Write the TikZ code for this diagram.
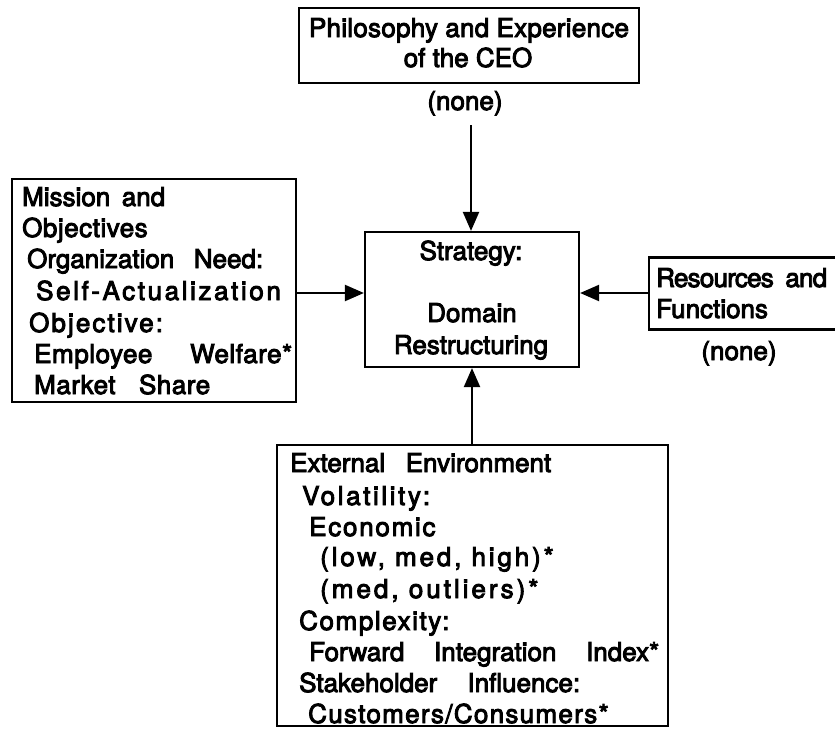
\documentclass[tikz,border=0pt]{standalone}
\usepackage{fontspec}
\setmainfont{TeX Gyre Heros}[FakeBold=3.5]
\usetikzlibrary{arrows.meta}
% stretch the word spaces of a line to a given width
\newcommand{\fitto}[2]{\makebox[#1][s]{#2}}
% letter-spaced text
\newcommand{\spaced}[2]{{\addfontfeature{LetterSpace=#1}#2}}
\begin{document}
\begin{tikzpicture}[x=1pt,y=-1pt,
  box/.style={draw, line width=2.2pt, rectangle, inner sep=0pt},
  txt/.style={inner sep=0pt, font=\fontsize{26}{31}\selectfont},
  arr/.style={line width=2.2pt, -{Triangle[length=19pt,width=16pt]}}]
\path[fill=white, use as bounding box] (0,0) rectangle (835,728);

% boxes
\node[box, minimum width=340pt, minimum height=75pt]  (ceo)       at (469,45.5)  {};
\node[box, minimum width=214pt, minimum height=135pt] (strategy)  at (472,299.5) {};
\node[box, minimum width=284pt, minimum height=223pt] (mission)   at (154,290.5) {};
\node[box, minimum width=202pt, minimum height=72pt]  (resources) at (750,293.5) {};
\node[box, minimum width=391pt, minimum height=281pt] (env)       at (472.5,585.5) {};

% CEO box
\node[txt, anchor=base] (ceo1) at (469,37) {\fitto{320pt}{\spaced{1}{Philosophy and Experience}}};
\node[txt, anchor=base] (ceo2) at (468,67) {of the CEO};
\node[txt, anchor=base] (ceo3) at (465,110) {(none)};

% strategy box
\node[txt, anchor=base] (st1) at (471,260) {Strategy:};
\node[txt, anchor=base] (st2) at (472,322) {Domain};
\node[txt, anchor=base] (st3) at (471,354) {Restructuring};

% mission box
\node[txt, anchor=base west] (mi1) at (22,206) {\fitto{143pt}{Mission and}};
\node[txt, anchor=base west] (mi2) at (22,237) {\spaced{2}{Objectives}};
\node[txt, anchor=base west] (mi3) at (27,268) {\fitto{236pt}{Organization Need:}};
\node[txt, anchor=base west] (mi4) at (36,300) {\spaced{10}{Self-Actualization}};
\node[txt, anchor=base west] (mi5) at (29,332) {\spaced{8}{Objective:}};
\node[txt, anchor=base west] (mi6) at (34,363) {\fitto{258pt}{\spaced{2}{Employee Welfare*}}};
\node[txt, anchor=base west] (mi7) at (34,394) {\fitto{176pt}{\spaced{2}{Market Share}}};

% resources box
\node[txt, anchor=base west] (re1) at (656,287) {\fitto{171pt}{\spaced{-3}{Resources and}}};
\node[txt, anchor=base west] (re2) at (656,318) {Functions};
\node[txt, anchor=base] (re3) at (739,360) {(none)};

% external environment box
\node[txt, anchor=base west] (en1) at (290,472) {\fitto{261pt}{External Environment}};
\node[txt, anchor=base west] (en2) at (302,505) {\spaced{10}{Volatility:}};
\node[txt, anchor=base west] (en3) at (309,536) {\spaced{6.7}{Economic}};
\node[txt, anchor=base west] (en4) at (320,566) {\spaced{11}{(low, med, high)*}};
\node[txt, anchor=base west] (en5) at (320,598) {\spaced{11.5}{(med, outliers)*}};
\node[txt, anchor=base west] (en6) at (299,630) {\spaced{6}{Complexity:}};
\node[txt, anchor=base west] (en7) at (309,661) {\fitto{350pt}{Forward Integration Index*}};
\node[txt, anchor=base west] (en8) at (299,692) {\fitto{281pt}{Stakeholder Influence:}};
\node[txt, anchor=base west] (en9) at (308,723) {\spaced{5}{Customers/Consumers*}};

% connectors
\coordinate (topstart) at (471,125);
\coordinate (row) at (0,293);
\draw[arr] (topstart) -- (topstart |- strategy.north);
\draw[arr] (mission.east |- row) -- (strategy.west |- row);
\draw[arr] (resources.west |- row) -- (strategy.east |- row);
\draw[arr] (strategy.south |- env.north) -- (strategy.south);
\end{tikzpicture}
\end{document}
